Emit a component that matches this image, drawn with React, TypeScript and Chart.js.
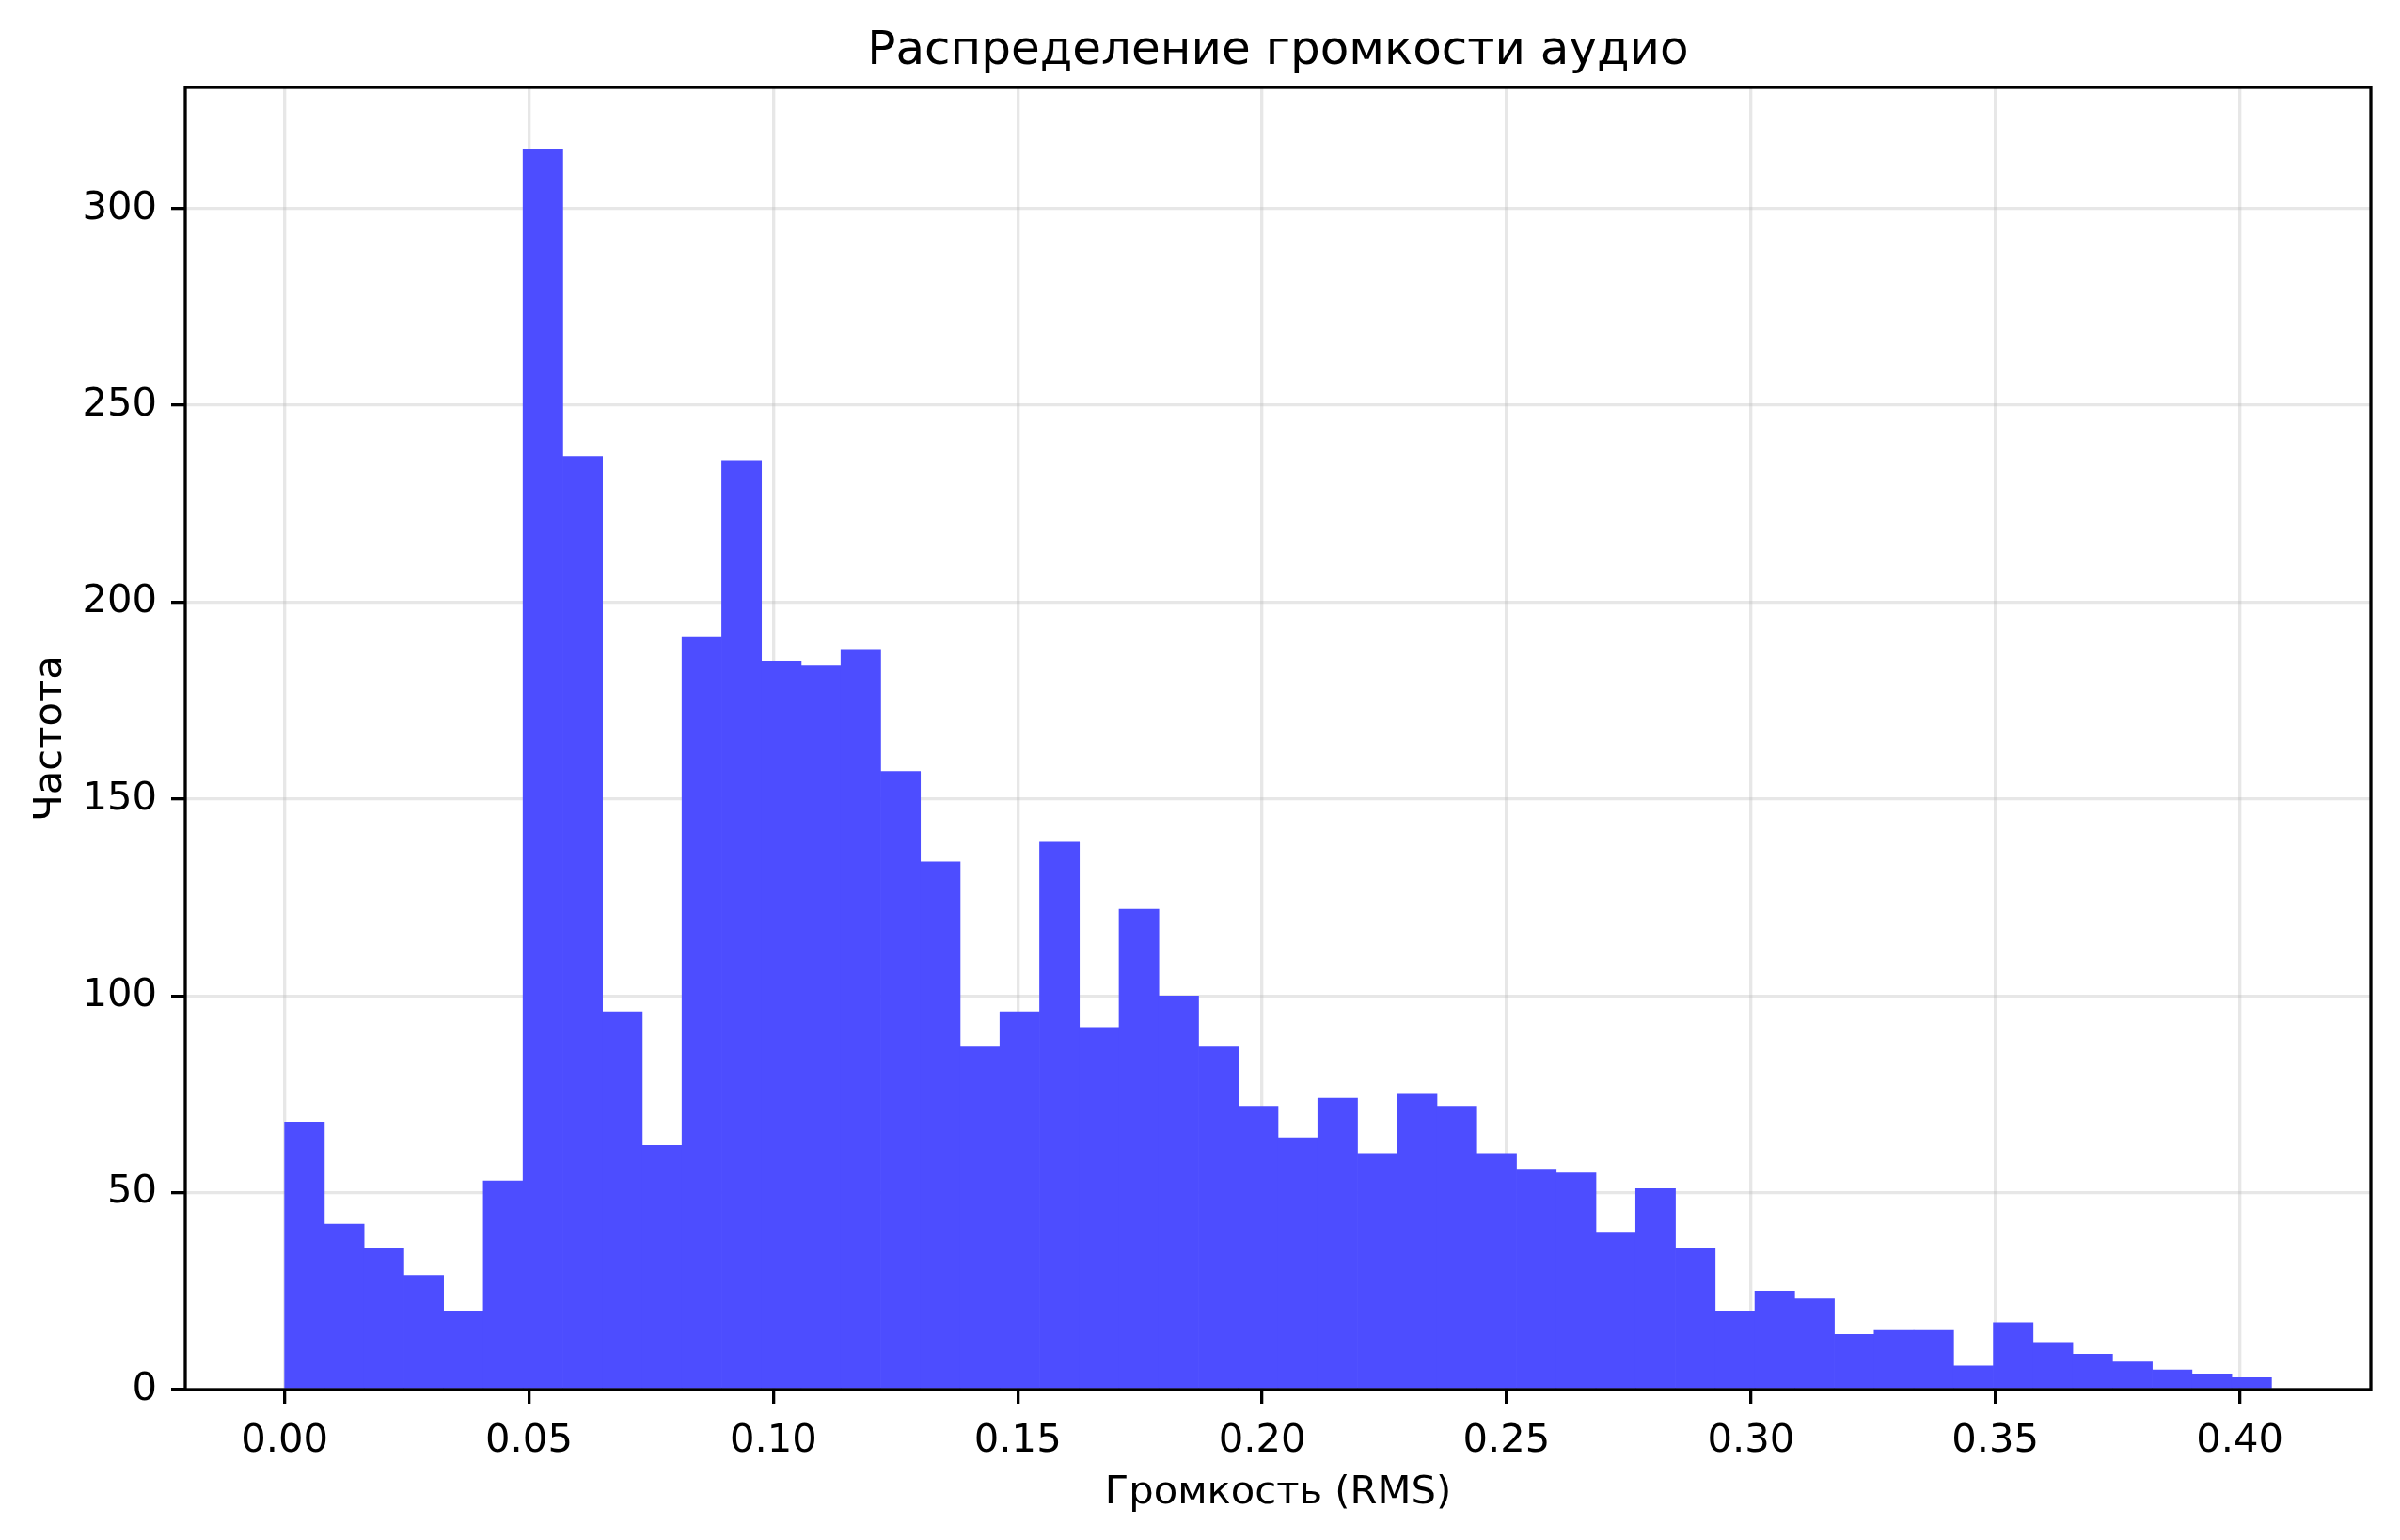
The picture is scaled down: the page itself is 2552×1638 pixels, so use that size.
import React, { useEffect, useRef } from "react";
import { Chart, registerables } from "chart.js";

Chart.register(...registerables);

// ---- data ----
const chartTitle = "Распределение громкости аудио";
const xAxisLabel = "Громкость (RMS)";
const yAxisLabel = "Частота";

// histogram range (RMS) and bin counts (50 equal bins)
const binMin = 0.0;
const binMax = 0.4065;
const counts = [
  68, 42, 36, 29, 20, 53, 315, 237, 96, 62,
  191, 236, 185, 184, 188, 157, 134, 87, 96, 139,
  92, 122, 100, 87, 72, 64, 74, 60, 75, 72,
  60, 56, 55, 40, 51, 36, 20, 25, 23, 14,
  15, 15, 6, 17, 12, 9, 7, 5, 4, 3,
];
const xTicks = [0.0, 0.05, 0.1, 0.15, 0.2, 0.25, 0.3, 0.35, 0.4];
const yTicks = [0, 50, 100, 150, 200, 250, 300];

const FONT = "'DejaVu Sans', 'Noto Sans', sans-serif";
const LW = 3.3;

const spinesPlugin = {
  id: "spines",
  afterDraw(chart: any) {
    const { ctx, chartArea: a } = chart;
    ctx.save();
    ctx.strokeStyle = "#000";
    ctx.lineWidth = LW;
    ctx.lineJoin = "miter";
    ctx.strokeRect(a.left, a.top, a.right - a.left, a.bottom - a.top);
    ctx.restore();
  },
};

export default function App() {
  const ref = useRef<HTMLCanvasElement | null>(null);

  useEffect(() => {
    if (!ref.current) return;
    const binWidth = (binMax - binMin) / counts.length;
    const points = counts.map((c, i) => ({ x: binMin + (i + 0.5) * binWidth, y: c }));
    const range = binMax - binMin;
    const xMin = binMin - 0.05 * range;
    const xMax = binMax + 0.05 * range;
    const yMax = Math.max(...counts) * 1.05;

    const chart = new Chart(ref.current, {
      type: "bar",
      data: {
        datasets: [
          {
            data: points,
            backgroundColor: "rgb(77,77,255)",
            borderWidth: 0,
            barPercentage: 1.0,
            categoryPercentage: 1.0,
          },
        ],
      },
      options: {
        animation: false,
        responsive: false,
        devicePixelRatio: 1,
        color: "#000",
        font: { family: FONT, size: 41.7 },
        layout: { padding: { left: 0, right: 31, top: 0, bottom: 0 } },
        plugins: {
          legend: { display: false },
          tooltip: { enabled: false },
          title: {
            display: true,
            text: chartTitle,
            color: "#000",
            fullSize: false,
            font: { family: FONT, size: 50, weight: "normal" as any, lineHeight: 1.2 },
            padding: { top: 25, bottom: 8 },
          },
        },
        scales: {
          x: {
            type: "linear",
            min: xMin,
            max: xMax,
            offset: false,
            z: 1,
            afterBuildTicks: (s: any) => {
              s.ticks = xTicks.map((v) => ({ value: v }));
            },
            afterFit: (s: any) => {
              s.height = 160;
            },
            grid: {
              offset: false,
              color: "rgba(176,176,176,0.3)",
              lineWidth: LW,
              drawTicks: true,
              tickLength: 15,
              tickColor: "#000",
              tickWidth: LW,
            },
            border: { display: false },
            ticks: {
              color: "#000",
              font: { family: FONT, size: 41.7 },
              padding: 15,
              maxRotation: 0,
              autoSkip: false,
              callback: (v: any) => Number(v).toFixed(2),
            },
            title: {
              display: true,
              text: xAxisLabel,
              color: "#000",
              font: { family: FONT, size: 41.7, lineHeight: 1.2 },
              padding: { top: 0, bottom: 25 },
            },
          },
          y: {
            type: "linear",
            min: 0,
            max: yMax,
            z: 1,
            afterBuildTicks: (s: any) => {
              s.ticks = yTicks.map((v) => ({ value: v }));
            },
            afterFit: (s: any) => {
              s.width = 197;
            },
            grid: {
              color: "rgba(176,176,176,0.3)",
              lineWidth: LW,
              drawTicks: true,
              tickLength: 15,
              tickColor: "#000",
              tickWidth: LW,
            },
            border: { display: false },
            ticks: {
              color: "#000",
              font: { family: FONT, size: 41.7 },
              padding: 15,
              autoSkip: false,
              callback: (v: any) => String(v),
            },
            title: {
              display: true,
              text: yAxisLabel,
              color: "#000",
              font: { family: FONT, size: 41.7, lineHeight: 1.2 },
              padding: { top: 29, bottom: 0 },
            },
          },
        },
      },
      plugins: [spinesPlugin],
    });
    return () => chart.destroy();
  }, []);

  return (
    <div style={{ position: "fixed", left: 0, top: 0, width: 2552, height: 1638, background: "#fff" }}>
      <canvas ref={ref} width={2552} height={1638} style={{ width: 2552, height: 1638, display: "block" }} />
    </div>
  );
}
